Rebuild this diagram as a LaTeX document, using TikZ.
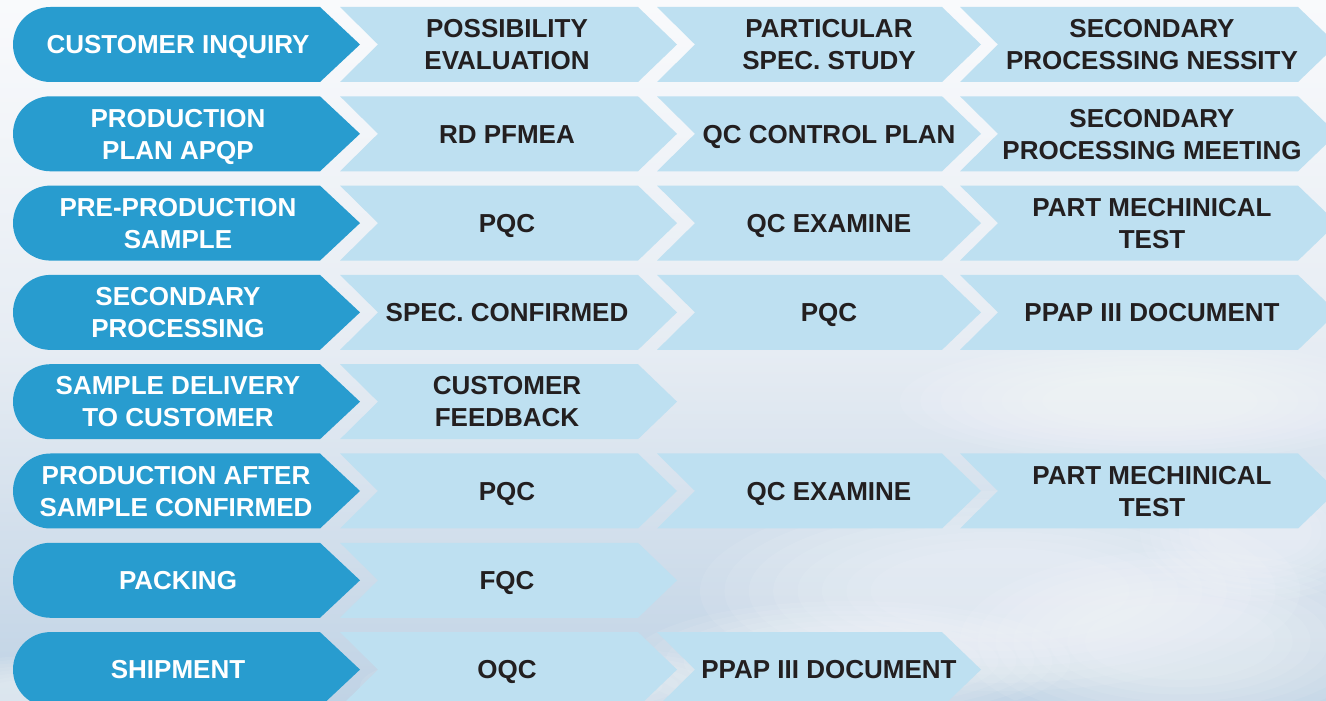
\documentclass[tikz,border=0pt]{standalone}
\usepackage{fontspec}
\setmainfont{Liberation Sans}
\definecolor{darkb}{HTML}{289CCF}
\definecolor{lightb}{HTML}{BEE0F1}
\definecolor{txt}{HTML}{231F20}
\definecolor{bgtop}{HTML}{F9FAFC}
\definecolor{bgmid}{HTML}{E6ECF3}
\definecolor{bgbot}{HTML}{C0D3E5}
\newcommand{\sm}[1]{\smash{#1}}
\tikzset{
  lbl/.style={font=\fontsize{26}{32}\selectfont\bfseries, align=center, inner sep=0pt, text height=18.6pt},
  two/.style={text height=50.6pt},
  darklbl/.style={lbl, text=white},
  lightlbl/.style={lbl, text=txt},
}
\newcommand{\darkshape}[1]{%
  \fill[darkb] (320,#1+37.5) -- (360,#1) -- (320,#1-37.5) -- (50.5,#1-37.5) arc (270:90:37.5) -- cycle;}
\newcommand{\lightshape}[3]{%
  \fill[lightb] (#1,#3+37.5) -- (#2,#3+37.5) -- (#2+39,#3) -- (#2,#3-37.5) -- (#1,#3-37.5) -- (#1+38,#3) -- cycle;}
\newcommand{\cloud}[4]{%
  \foreach \k in {1,...,8} {
    \fill[white, opacity=0.08] (#1,#2) ellipse ({#3*(0.35+0.65*\k/8)} and {#4*(0.35+0.65*\k/8)});
  }}
\begin{document}
\begin{tikzpicture}[x=1pt,y=1pt]
\useasboundingbox (0,0) rectangle (1326,701);
\shade[top color=bgtop, bottom color=bgbot, middle color=bgmid] (0,0) rectangle (1326,701);
% clouds
\cloud{1000}{110}{300}{100}
\cloud{1180}{60}{220}{90}
\cloud{1260}{170}{120}{70}
\cloud{850}{40}{220}{60}
\cloud{560}{15}{200}{40}
\cloud{40}{5}{140}{40}
\cloud{1150}{300}{250}{60}
\foreach \i in {0,...,7} {
  \pgfmathsetmacro{\yc}{701-44.5-89.3*\i}
  \darkshape{\yc}
  \lightshape{340}{638}{\yc}
}
\foreach \i in {0,1,2,3,5} {
  \pgfmathsetmacro{\yc}{701-44.5-89.3*\i}
  \lightshape{657}{942}{\yc}
  \lightshape{960}{1298}{\yc}
}
\pgfmathsetmacro{\yc}{701-44.5-89.3*7}
\lightshape{657}{942}{\yc}
% labels
\node[darklbl] (d1) at (178,656.5) {\sm{CUSTOMER INQUIRY}};
\node[darklbl,two] (d2) at (178,567.2) {\sm{PRODUCTION}\\\sm{PLAN APQP}};
\node[darklbl,two] (d3) at (178,477.9) {\sm{PRE-PRODUCTION}\\\sm{SAMPLE}};
\node[darklbl,two] (d4) at (178,388.6) {\sm{SECONDARY}\\\sm{PROCESSING}};
\node[darklbl,two] (d5) at (178,299.3) {\sm{SAMPLE DELIVERY}\\\sm{TO CUSTOMER}};
\node[darklbl,two] (d6) at (176,210.0) {\sm{PRODUCTION AFTER}\\\sm{SAMPLE CONFIRMED}};
\node[darklbl] (d7) at (178,120.7) {\sm{PACKING}};
\node[darklbl] (d8) at (178,31.4) {\sm{SHIPMENT}};
\node[lightlbl,two] (a1) at (507,656.5) {\sm{POSSIBILITY}\\\sm{EVALUATION}};
\node[lightlbl] (a2) at (507,567.2) {\sm{RD PFMEA}};
\node[lightlbl] (a3) at (507,477.9) {\sm{PQC}};
\node[lightlbl] (a4) at (507,388.6) {\sm{SPEC. CONFIRMED}};
\node[lightlbl,two] (a5) at (507,299.3) {\sm{CUSTOMER}\\\sm{FEEDBACK}};
\node[lightlbl] (a6) at (507,210.0) {\sm{PQC}};
\node[lightlbl] (a7) at (507,120.7) {\sm{FQC}};
\node[lightlbl] (a8) at (507,31.4) {\sm{OQC}};
\node[lightlbl,two] (b1) at (829,656.5) {\sm{PARTICULAR}\\\sm{SPEC. STUDY}};
\node[lightlbl] (b2) at (829,567.2) {\sm{QC CONTROL PLAN}};
\node[lightlbl] (b3) at (829,477.9) {\sm{QC EXAMINE}};
\node[lightlbl] (b4) at (829,388.6) {\sm{PQC}};
\node[lightlbl] (b6) at (829,210.0) {\sm{QC EXAMINE}};
\node[lightlbl] (b8) at (829,31.4) {\sm{PPAP III DOCUMENT}};
\node[lightlbl,two] (c1) at (1152,656.5) {\sm{SECONDARY}\\\sm{PROCESSING NESSITY}};
\node[lightlbl,two] (c2) at (1152,567.2) {\sm{SECONDARY}\\\sm{PROCESSING MEETING}};
\node[lightlbl,two] (c3) at (1152,477.9) {\sm{PART MECHINICAL}\\\sm{TEST}};
\node[lightlbl] (c4) at (1152,388.6) {\sm{PPAP III DOCUMENT}};
\node[lightlbl,two] (c6) at (1152,210.0) {\sm{PART MECHINICAL}\\\sm{TEST}};
\end{tikzpicture}
\end{document}
